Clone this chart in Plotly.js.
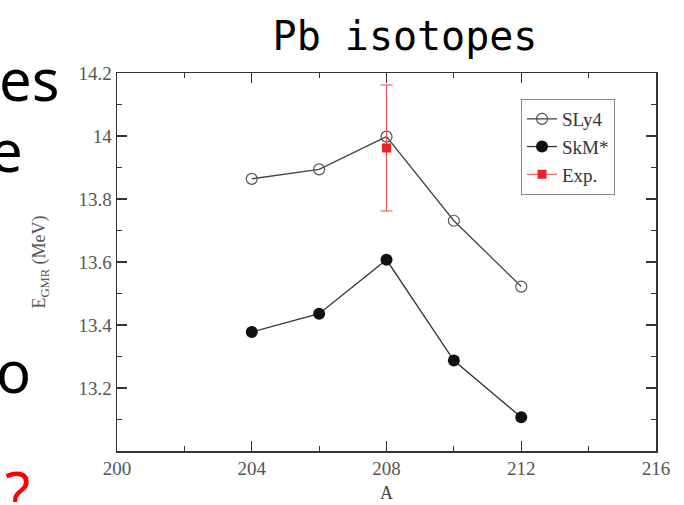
<!DOCTYPE html>
<html>
<head>
<meta charset="utf-8">
<script src="https://cdn.plot.ly/plotly-3.0.1.min.js"></script>
<style>html,body{margin:0;padding:0;background:#fff;}#chart{width:684px;height:505px;}</style>
</head>
<body>
<div id="chart"></div>
<script>
// Data
const massNumbers = [204, 206, 208, 210, 212];
const sly4Energy = [13.864, 13.894, 13.998, 13.731, 13.522];
const skmEnergy = [13.378, 13.436, 13.607, 13.287, 13.107];
const expMass = [208];
const expEnergy = [13.962];
const expError = [0.2];
const xTicks = [200, 204, 208, 212, 216];
const yTicks = [13.2, 13.4, 13.6, 13.8, 14.0, 14.2];
const yTickLabels = ['13.2', '13.4', '13.6', '13.8', '14', '14.2'];

const W = 684, H = 505;
const M = {l: 117, r: 28, t: 73, b: 54};
const pw = W - M.l - M.r, ph = H - M.t - M.b;
const px = v => (v - M.l) / pw;
const py = v => 1 - (v - M.t) / ph;

const serif = 'Liberation Serif, Times New Roman, serif';
const slideFont = 'Noto Sans, DejaVu Sans, sans-serif';

const traces = [
  {
    x: massNumbers, y: sly4Energy, name: 'SLy4', mode: 'lines+markers',
    line: {color: '#444', width: 1.3},
    marker: {symbol: 'circle-open', size: 11, color: '#555', line: {width: 1.2, color: '#555'}}
  },
  {
    x: massNumbers, y: skmEnergy, name: 'SkM*', mode: 'lines+markers',
    line: {color: '#333', width: 1.3},
    marker: {symbol: 'circle', size: 12, color: '#111'}
  },
  {
    x: expMass, y: expEnergy, name: 'Exp.', mode: 'lines+markers',
    line: {color: '#f04040', width: 1},
    marker: {symbol: 'square', size: 9, color: '#ee2222'},
    error_y: {type: 'data', array: expError, visible: true, color: '#e85050', thickness: 1, width: 6}
  }
];

const axisCommon = {
  showgrid: false, zeroline: false, showline: true, linecolor: '#333', linewidth: 1.5,
  mirror: 'ticks', ticks: 'inside', ticklen: 10, tickwidth: 1.2, tickcolor: '#333',
  tickfont: {family: serif, size: 19, color: '#555'}
};

const layout = {
  width: W, height: H,
  margin: M,
  paper_bgcolor: '#fff', plot_bgcolor: '#fff',
  showlegend: true,
  legend: {
    x: px(521), y: py(99), xanchor: 'left', yanchor: 'top',
    bgcolor: '#fff', bordercolor: '#888', borderwidth: 1,
    font: {family: serif, size: 19, color: '#333'},
    itemwidth: 30, tracegroupgap: 0
  },
  title: {
    text: 'Pb isotopes', x: 405 / W, xanchor: 'center', y: 1 - 36 / H, yanchor: 'middle',
    font: {family: 'DejaVu Sans Mono, monospace', size: 40, color: '#000'}
  },
  xaxis: Object.assign({}, axisCommon, {
    range: [200, 216], tickvals: xTicks, ticktext: xTicks.map(String),
    minor: {dtick: 2, tick0: 200, ticks: 'inside', ticklen: 5, tickcolor: '#333', tickwidth: 1},
    title: {text: 'A', standoff: 8, font: {family: serif, size: 18, color: '#444'}}
  }),
  yaxis: Object.assign({}, axisCommon, {
    range: [13.0, 14.2], tickvals: yTicks, ticktext: yTickLabels,
    minor: {dtick: 0.1, tick0: 13.0, ticks: 'inside', ticklen: 5, tickcolor: '#333', tickwidth: 1},
    title: {text: 'E<sub>GMR</sub> (MeV)', standoff: 28, font: {family: serif, size: 18, color: '#555'}}
  }),
  annotations: [
    {text: 'es', xref: 'paper', yref: 'paper', x: px(62), y: py(79), xanchor: 'right', yanchor: 'middle', showarrow: false, font: {family: slideFont, size: 58, color: '#000'}},
    {text: 'e', xref: 'paper', yref: 'paper', x: px(25), y: py(149), xanchor: 'right', yanchor: 'middle', showarrow: false, font: {family: slideFont, size: 58, color: '#000'}},
    {text: 'o', xref: 'paper', yref: 'paper', x: px(33), y: py(370), xanchor: 'right', yanchor: 'middle', showarrow: false, font: {family: slideFont, size: 58, color: '#000'}},
    {text: '?', xref: 'paper', yref: 'paper', x: px(3), y: py(492), xanchor: 'left', yanchor: 'middle', showarrow: false, font: {family: slideFont, size: 58, color: '#ff0000'}}
  ]
};

Plotly.newPlot('chart', traces, layout, {displayModeBar: false, staticPlot: true});
</script>
</body>
</html>
